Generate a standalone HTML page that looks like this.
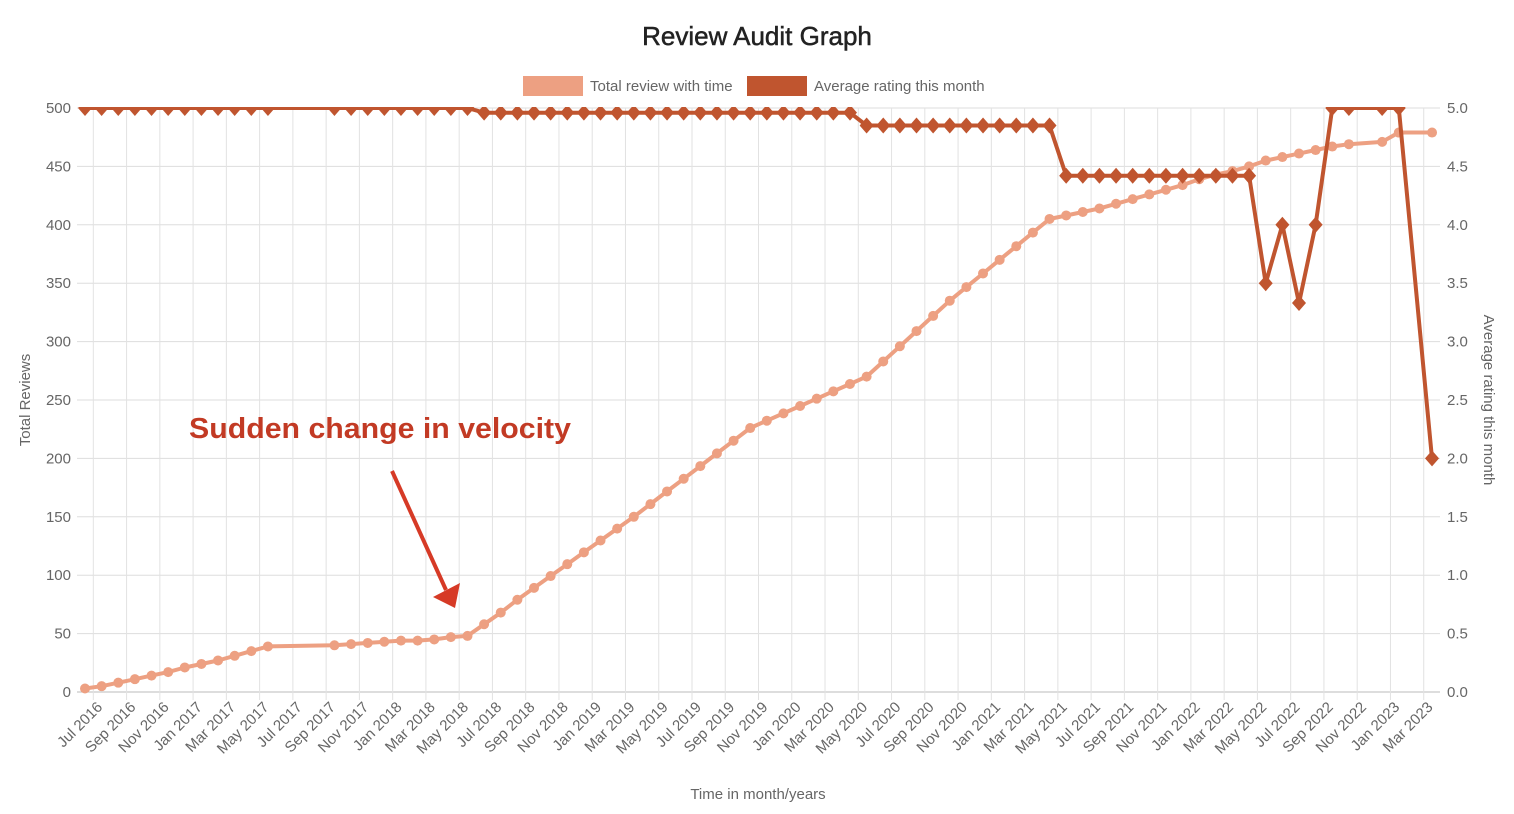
<!DOCTYPE html>
<html><head><meta charset="utf-8"><style>
html,body{margin:0;padding:0;background:#fff;}
svg{display:block;font-family:"Liberation Sans",sans-serif;}
</style></head><body>
<svg id="c" width="1514" height="814" xmlns="http://www.w3.org/2000/svg"></svg>
<script>
var s='<defs><clipPath id="cp"><rect x="60" y="107" width="1400" height="620"/></clipPath></defs>';
var X0=85,DX=16.63,Y0=692,PX=584/500;
function xi(i){return X0+DX*i;}
function yv(v){return Y0-v*PX;}
function yr(r){return Y0-r*PX*100;}
s+='<text x="757" y="45" text-anchor="middle" font-size="26" fill="#222" stroke="#222" stroke-width="0.5">Review Audit Graph</text>';
s+='<rect x="523" y="76" width="60" height="20" fill="#eda082"/><text x="590" y="91" font-size="15" fill="#666">Total review with time</text>';
s+='<rect x="747" y="76" width="60" height="20" fill="#c0552f"/><text x="814" y="91" font-size="15" fill="#666">Average rating this month</text>';
for(var k=0;k<=10;k++){var y=yv(k*50);
s+='<line x1="77" x2="1440" y1="'+y+'" y2="'+y+'" stroke="'+(k==0?'#bbb':'#ddd')+'" stroke-width="1"/>';
s+='<text x="71" y="'+(y+5)+'" text-anchor="end" font-size="15" fill="#666">'+(k*50)+'</text>';
s+='<text x="1447" y="'+(y+5)+'" font-size="15" fill="#666">'+(k*0.5).toFixed(1)+'</text>';}
var M=['Jan','Feb','Mar','Apr','May','Jun','Jul','Aug','Sep','Oct','Nov','Dec'];
for(var k=0;k<=40;k++){var x=xi(2*k+0.5);
s+='<line x1="'+x+'" x2="'+x+'" y1="108" y2="700" stroke="#e2e2e2" stroke-width="1"/>';
var m=6+2*k,yr_=2016+Math.floor(m/12);
s+='<text transform="translate('+(x+10)+',708) rotate(-45)" text-anchor="end" font-size="15" fill="#666">'+M[m%12]+' '+yr_+'</text>';}
s+='<text transform="translate(30,400) rotate(-90)" text-anchor="middle" font-size="15" fill="#666">Total Reviews</text>';
s+='<text transform="translate(1484,400) rotate(90)" text-anchor="middle" font-size="15" fill="#666">Average rating this month</text>';
s+='<text x="758" y="799" text-anchor="middle" font-size="15" fill="#666">Time in month/years</text>';
var T={0:3,1:5,2:8,3:11,4:14,5:17,6:21,7:24,8:27,9:31,10:35,11:39,15:40,16:41,17:42,18:43,19:44,20:44,21:45,22:47,23:48,24:58,25:68,26:79};
var anchors=[[26,79],[33,150],[40,226],[47,270],[52,335],[58,405]];
for(var a=0;a<anchors.length-1;a++){var p=anchors[a],q=anchors[a+1];for(var i=p[0];i<=q[0];i++)T[i]=p[1]+(q[1]-p[1])*(i-p[0])/(q[0]-p[0]);}
var t2={59:408,60:411,61:414,62:418,63:422,64:426,65:430,66:434,67:439,68:443,69:446,70:450,71:455,72:458,73:461,74:464,75:467,76:469,78:471,79:479,81:479};
for(var kk in t2)T[kk]=t2[kk];
var R={};
for(var i=0;i<=11;i++)R[i]=5;for(var i=15;i<=23;i++)R[i]=5;
for(var i=24;i<=46;i++)R[i]=4.96;for(var i=47;i<=58;i++)R[i]=4.85;for(var i=59;i<=70;i++)R[i]=4.42;
R[71]=3.5;R[72]=4.0;R[73]=3.33;R[74]=4.0;R[75]=5;R[76]=5;R[78]=5;R[79]=5;R[81]=2.0;
function keys(o){return Object.keys(o).map(Number).sort(function(a,b){return a-b});}
s+='<g clip-path="url(#cp)">';
var pts=keys(T).map(function(i){return xi(i).toFixed(1)+','+yv(T[i]).toFixed(1)}).join(' ');
s+='<polyline points="'+pts+'" fill="none" stroke="#eda082" stroke-width="4" stroke-linejoin="round"/>';
keys(T).forEach(function(i){s+='<circle cx="'+xi(i)+'" cy="'+yv(T[i])+'" r="5" fill="#eda082"/>';});
var pr=keys(R).map(function(i){return xi(i).toFixed(1)+','+yr(R[i]).toFixed(1)}).join(' ');
s+='<polyline points="'+pr+'" fill="none" stroke="#c0552f" stroke-width="4" stroke-linejoin="round"/>';
keys(R).forEach(function(i){var x=xi(i),y=yr(R[i]);s+='<polygon points="'+x+','+(y-8)+' '+(x+7)+','+y+' '+x+','+(y+8)+' '+(x-7)+','+y+'" fill="#c0552f"/>';});
s+='</g>';
s+='<text x="189" y="438" font-size="29" font-weight="bold" fill="#c23a24" textLength="382" lengthAdjust="spacingAndGlyphs">Sudden change in velocity</text>';
s+='<line x1="392" y1="471" x2="446" y2="590" stroke="#d63a26" stroke-width="4"/>';
s+='<polygon points="433,597 460,583 455,608" fill="#d63a26"/>';
document.getElementById('c').innerHTML=s;
</script>
</body></html>
